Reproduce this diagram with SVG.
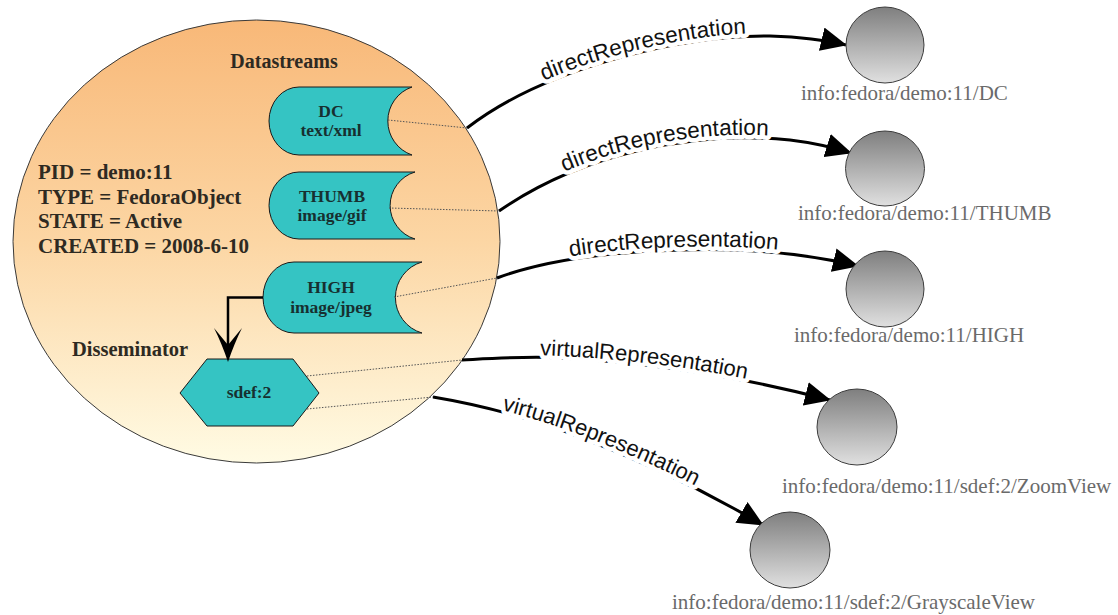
<svg xmlns="http://www.w3.org/2000/svg" width="1118" height="615" viewBox="0 0 1118 615">
<defs>
<linearGradient id="gObj" x1="0" y1="0" x2="0" y2="1">
<stop offset="0" stop-color="#f8b878"/>
<stop offset="0.5" stop-color="#fcd6a4"/>
<stop offset="1" stop-color="#fffbe4"/>
</linearGradient>
<linearGradient id="gRes" x1="0" y1="0" x2="0" y2="1">
<stop offset="0" stop-color="#7f7f7f"/>
<stop offset="1" stop-color="#e0e0e0"/>
</linearGradient>
<marker id="arr" markerUnits="userSpaceOnUse" markerWidth="26" markerHeight="24" viewBox="0 0 26 24" refX="25" refY="12" orient="auto">
<path d="M0,0 L26,12 L0,24 Z" fill="#000"/>
</marker>
<marker id="barb" markerUnits="userSpaceOnUse" markerWidth="34" markerHeight="28" viewBox="0 0 34 28" refX="24" refY="14" orient="auto">
<path d="M34,14 C22,10 10,5 0,0 L17,14 L0,28 C10,23 22,18 34,14 Z" fill="#000"/>
</marker>
</defs>
<style>
.obj{fill:url(#gObj);stroke:#3a3a3a;stroke-width:1}
.ds{fill:#35c4c3;stroke:#1a1a1a;stroke-width:1}
.res{fill:url(#gRes);stroke:#3c3c3c;stroke-width:1}
.bt{font-family:"Liberation Serif",serif;font-weight:bold;fill:#2e2a22}
.dst{font-family:"Liberation Serif",serif;font-weight:bold;font-size:17.5px;fill:#173030;text-anchor:middle}
.lbl{font-family:"Liberation Serif",serif;font-size:21px;fill:#6a6a6a}
.edge{fill:none;stroke:#000;stroke-width:3;marker-end:url(#arr)}
.dot{fill:none;stroke:#555;stroke-width:1;stroke-dasharray:1.5 1.5}
.rel{font-family:"Liberation Sans",sans-serif;fill:#111}
.halo{font-family:"Liberation Sans",sans-serif;fill:#fff;stroke:#fff;stroke-width:9;stroke-linejoin:round}
</style>
<rect width="1118" height="615" fill="#fff"/>

<g id="fedora-object">
<ellipse class="obj" cx="256.5" cy="241.5" rx="243.5" ry="221.5"/>
<text class="bt" x="284" y="68" font-size="20" text-anchor="middle">Datastreams</text>
<text class="bt" x="38" y="179" font-size="21">PID = demo:11</text>
<text class="bt" x="38" y="203.5" font-size="21">TYPE = FedoraObject</text>
<text class="bt" x="38" y="228" font-size="21">STATE = Active</text>
<text class="bt" x="38" y="252.5" font-size="21">CREATED = 2008-6-10</text>
<text class="bt" x="130" y="356" font-size="20.5" text-anchor="middle">Disseminator</text>
</g>

<g id="ds-dc">
<path class="ds" d="M412,87 H299 A30,34 0 0 0 299,155 H412 A36,36 0 0 1 412,87 Z"/>
<text class="dst" x="331" y="117">DC</text>
<text class="dst" x="331" y="136">text/xml</text>
</g>
<g id="ds-thumb">
<path class="ds" d="M415,172 H299 A30,33.5 0 0 0 299,239 H415 A35,35 0 0 1 415,172 Z"/>
<text class="dst" x="332" y="202">THUMB</text>
<text class="dst" x="332" y="221">image/gif</text>
</g>
<g id="ds-high">
<path class="ds" d="M422,262 H294 A31,35.5 0 0 0 294,333 H422 A37,37 0 0 1 422,262 Z"/>
<text class="dst" x="331" y="293">HIGH</text>
<text class="dst" x="331" y="313">image/jpeg</text>
</g>
<g id="sdef2">
<polygon class="ds" points="180,393 207,359 293,359 319,393 293,426 207,426"/>
<text class="dst" x="249" y="398" font-size="18">sdef:2</text>
</g>

<g id="connectors">
<path d="M263,297.5 H228 V352" fill="none" stroke="#000" stroke-width="2.5" marker-end="url(#barb)"/>
<line class="dot" x1="388" y1="120" x2="467" y2="128"/>
<line class="dot" x1="389" y1="208" x2="499" y2="211"/>
<line class="dot" x1="394" y1="297" x2="497" y2="278"/>
<line class="dot" x1="307" y1="376" x2="462" y2="360"/>
<line class="dot" x1="307" y1="409" x2="433" y2="397"/>

<path id="e1" class="edge" d="M467,128 C545,68 680,35 770,36 C800,37 825,40 846,45"/>
<path id="e2" class="edge" d="M499,211 C580,155 690,130 790,140 C815,143 835,148 851,153"/>
<path id="e3" class="edge" d="M497,278 C540,262 600,252 680,250 C740,248 800,252 858,266"/>
<path id="e4" class="edge" d="M462,360 C500,358 530,356 560,358 C640,362 720,372 830,400"/>
<path id="e5" class="edge" d="M433,397 C475,404 530,418 580,437 C640,460 700,488 763,525"/>

<text class="halo" font-size="22.5" dy="-3"><textPath href="#e1" startOffset="90">directRepresentation</textPath></text>
<text class="halo" font-size="22.5" dy="-3"><textPath href="#e2" startOffset="76">directRepresentation</textPath></text>
<text class="halo" font-size="22.5" dy="-3"><textPath href="#e3" startOffset="76">directRepresentation</textPath></text>
<text class="halo" font-size="22" dy="-2"><textPath href="#e4" startOffset="78">virtualRepresentation</textPath></text>
<text class="halo" font-size="22" dy="-2"><textPath href="#e5" startOffset="70">virtualRepresentation</textPath></text>

<text class="rel" font-size="22.5" dy="-3"><textPath href="#e1" startOffset="90">directRepresentation</textPath></text>
<text class="rel" font-size="22.5" dy="-3"><textPath href="#e2" startOffset="76">directRepresentation</textPath></text>
<text class="rel" font-size="22.5" dy="-3"><textPath href="#e3" startOffset="76">directRepresentation</textPath></text>
<text class="rel" font-size="22" dy="-2"><textPath href="#e4" startOffset="78">virtualRepresentation</textPath></text>
<text class="rel" font-size="22" dy="-2"><textPath href="#e5" startOffset="70">virtualRepresentation</textPath></text>
</g>

<g id="res-dc">
<ellipse class="res" cx="885" cy="45" rx="39" ry="38"/>
<text class="lbl" x="801" y="100">info:fedora/demo:11/DC</text>
</g>
<g id="res-thumb">
<ellipse class="res" cx="885" cy="168.5" rx="39.5" ry="37.5"/>
<text class="lbl" x="798" y="220">info:fedora/demo:11/THUMB</text>
</g>
<g id="res-high">
<ellipse class="res" cx="885" cy="289" rx="39" ry="38"/>
<text class="lbl" x="794" y="342">info:fedora/demo:11/HIGH</text>
</g>
<g id="res-zoom">
<ellipse class="res" cx="857" cy="427" rx="40" ry="38"/>
<text class="lbl" x="782" y="493">info:fedora/demo:11/sdef:2/ZoomView</text>
</g>
<g id="res-gray">
<ellipse class="res" cx="790" cy="550" rx="40" ry="38"/>
<text class="lbl" x="672" y="609">info:fedora/demo:11/sdef:2/GrayscaleView</text>
</g>
</svg>
